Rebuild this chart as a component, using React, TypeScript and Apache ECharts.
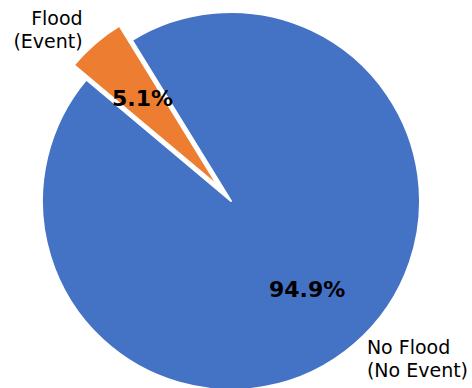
import React, { useEffect, useRef } from "react";
import * as echarts from "echarts";

// Share of observations per class
const categories = ["No Flood\n(No Event)", "Flood\n(Event)"];
const shares = [94.9, 5.1];
const sliceColors = ["#4472C4", "#ED7D31"];
const pulledOut = [false, true];

const RADIUS = 189;
const CENTER = [231, 201];
const START_ANGLE = 140;
const EXPLODE = 19;

export default function App() {
  const ref = useRef<HTMLDivElement>(null);

  useEffect(() => {
    const chart = echarts.init(ref.current!, null, { renderer: "svg" });

    const common = {
      type: "pie",
      center: CENTER,
      clockwise: false,
      startAngle: START_ANGLE,
      selectedMode: "multiple",
      selectedOffset: EXPLODE,
      avoidLabelOverlap: false,
      silent: true,
      emphasis: { disabled: true },
    };

    chart.setOption({
      animation: false,
      backgroundColor: "#ffffff",
      series: [
        {
          ...common,
          radius: [0, RADIUS],
          itemStyle: { borderColor: "#ffffff", borderWidth: 2 },
          label: {
            show: true,
            position: "outside",
            formatter: "{b}",
            fontFamily: "DejaVu Sans",
            fontSize: 19,
            lineHeight: 23,
            color: "#000000",
            distanceToLabelLine: 0,
          },
          labelLine: { show: false, length: RADIUS * 0.1, length2: 0 },
          data: categories.map((name, i) => ({
            name,
            value: shares[i],
            selected: pulledOut[i],
            itemStyle: { color: sliceColors[i] },
          })),
        },
        {
          ...common,
          // transparent ring only used to place the percentage labels at 0.6 r
          radius: [0, RADIUS * 1.2],
          z: 5,
          itemStyle: { color: "rgba(0,0,0,0)", borderWidth: 0 },
          label: {
            show: true,
            position: "inside",
            formatter: (p: any) => `${p.value.toFixed(1)}%`,
            fontFamily: "DejaVu Sans",
            fontWeight: "bold",
            fontSize: 22,
            color: "#000000",
            textBorderWidth: 0,
          },
          labelLine: { show: false },
          data: categories.map((name, i) => ({
            name,
            value: shares[i],
            selected: pulledOut[i],
          })),
        },
      ],
    });

    return () => chart.dispose();
  }, []);

  return (
    <div
      ref={ref}
      style={{ position: "fixed", left: 0, top: 0, width: 472, height: 388 }}
    />
  );
}
